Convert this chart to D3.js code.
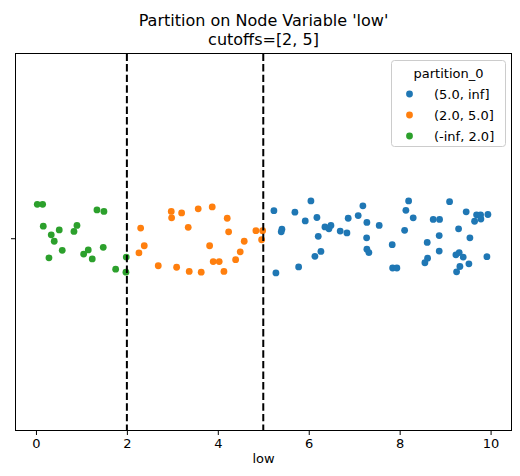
<!DOCTYPE html>
<html><head><meta charset="utf-8">
<script src="https://cdn.jsdelivr.net/npm/d3@7"></script>
<style>body{margin:0;background:#fff}svg{display:block;font-family:"DejaVu Sans",sans-serif}</style>
</head><body><svg id="c" width="520" height="476"></svg>
<script>
const title = ["Partition on Node Variable 'low'", "cutoffs=[2, 5]"];
const xLabel = "low";
const xTicks = [0, 2, 4, 6, 8, 10];
const cutoffs = [2, 5];
const legendTitle = "partition_0";
const partitions = ["(5.0, inf]", "(2.0, 5.0]", "(-inf, 2.0]"];
const colors = ["#1f77b4", "#ff7f0e", "#2ca02c"];

const greenX = [0.029,0.147,0.161,0.336,0.402,0.512,0.286,0.578,0.836,0.902,1.049,1.150,1.238,1.342,1.495,1.480,1.753,1.986,1.979];
const greenJ = [-0.090,-0.090,-0.032,-0.009,0.008,-0.022,0.052,0.032,-0.018,-0.034,0.042,0.031,0.055,-0.075,-0.071,0.024,0.082,0.050,0.090];
const orangeX = [2.303,2.382,2.265,2.690,2.976,2.984,3.204,3.094,3.349,3.371,3.569,3.635,3.877,3.820,3.899,4.031,4.207,4.238,4.135,4.392,4.493,4.581,4.838,4.986,4.964];
const orangeJ = [-0.027,0.020,0.039,0.073,-0.071,-0.054,-0.067,0.077,-0.029,0.088,-0.078,0.090,-0.083,0.020,0.062,0.062,-0.053,-0.017,0.088,0.057,0.036,0.008,-0.020,-0.020,0.004];
const blueX = [5.234,5.278,5.410,5.395,5.696,5.778,5.923,6.048,6.180,6.209,6.136,6.268,6.356,6.444,6.488,6.692,6.840,6.868,7.088,7.191,7.279,7.273,7.279,7.323,7.550,8.197,8.137,8.298,8.109,7.836,7.845,7.939,8.606,8.614,8.555,8.738,8.878,8.870,8.870,9.098,9.296,9.237,9.310,9.398,9.325,9.252,9.523,9.545,9.463,9.648,9.692,9.780,9.787,9.941,9.919];
const blueJ = [-0.073,0.092,-0.024,-0.017,-0.069,0.076,-0.046,-0.099,-0.055,-0.005,0.048,0.035,-0.030,-0.025,-0.034,-0.019,-0.014,-0.053,-0.060,-0.086,-0.042,-0.001,0.029,0.038,-0.034,-0.099,-0.074,-0.054,-0.021,0.017,0.079,0.079,0.011,0.053,0.065,-0.050,-0.050,-0.007,0.034,-0.097,-0.025,0.044,0.038,0.050,0.075,0.089,0.068,-0.001,-0.070,-0.045,-0.062,-0.062,-0.051,-0.063,0.049];

const groups = [
  {xs: blueX, js: blueJ, c: colors[0]},
  {xs: orangeX, js: orangeJ, c: colors[1]},
  {xs: greenX, js: greenJ, c: colors[2]}
];

const L = 15.5, R = 511.5, T = 53.5, B = 430.5;
const svg = d3.select("#c");
const x = d3.scaleLinear().domain([-0.45, 10.46]).range([L, R]);
const y = d3.scaleLinear().domain([-0.49, 0.51]).range([T, B]);

// points
groups.forEach(g => {
  svg.append("g").selectAll("circle").data(g.xs.map((v, i) => [v, g.js[i]])).join("circle")
    .attr("cx", d => x(d[0])).attr("cy", d => y(d[1])).attr("r", 3.4)
    .attr("fill", g.c);
});

// cutoff lines
svg.append("g").selectAll("line").data(cutoffs).join("line")
  .attr("x1", d => x(d)).attr("x2", d => x(d)).attr("y1", T).attr("y2", B)
  .attr("stroke", "#000").attr("stroke-width", 2).attr("stroke-dasharray", "7.4,3.2");

// axes
const xa = svg.append("g").attr("transform", `translate(0,${B})`)
  .call(d3.axisBottom(x).tickValues(xTicks).tickSize(4.5).tickPadding(4).tickFormat(d3.format("d")));
xa.select(".domain").remove();
xa.selectAll("text").attr("font-size", 13).attr("font-family", "DejaVu Sans").attr("fill", "#000");
xa.selectAll("line").attr("stroke", "#000").attr("stroke-width", 1);

const ya = svg.append("g").attr("transform", `translate(${L},0)`)
  .call(d3.axisLeft(y).tickValues([0]).tickSize(4.5).tickFormat(""));
ya.select(".domain").remove();
ya.selectAll("line").attr("stroke", "#000");

svg.append("rect").attr("x", L).attr("y", T).attr("width", R - L).attr("height", B - T)
  .attr("fill", "none").attr("stroke", "#000").attr("stroke-width", 1);

// labels
svg.append("text").attr("x", (L + R) / 2).attr("y", 463).attr("text-anchor", "middle")
  .attr("font-size", 13).text(xLabel);
svg.append("g").selectAll("text").data(title).join("text")
  .attr("x", (L + R) / 2).attr("y", (d, i) => 25.5 + i * 19.5).attr("text-anchor", "middle")
  .attr("font-size", 16).text(d => d);

// legend
const lg = svg.append("g");
lg.append("rect").attr("x", 391.5).attr("y", 60.5).attr("width", 114).attr("height", 86).attr("rx", 3)
  .attr("fill", "#fff").attr("fill-opacity", 0.8).attr("stroke", "#ccc");
lg.append("text").attr("x", 448.5).attr("y", 77.5).attr("text-anchor", "middle").attr("font-size", 13).text(legendTitle);
const rows = lg.selectAll("g.r").data(partitions).join("g").attr("class", "r")
  .attr("transform", (d, i) => `translate(0,${94 + i * 21})`);
rows.append("circle").attr("cx", 409.5).attr("cy", 0).attr("r", 3.4).attr("fill", (d, i) => colors[i]);
rows.append("text").attr("x", 434).attr("y", 4.6).attr("font-size", 13).text(d => d);
</script></body></html>
